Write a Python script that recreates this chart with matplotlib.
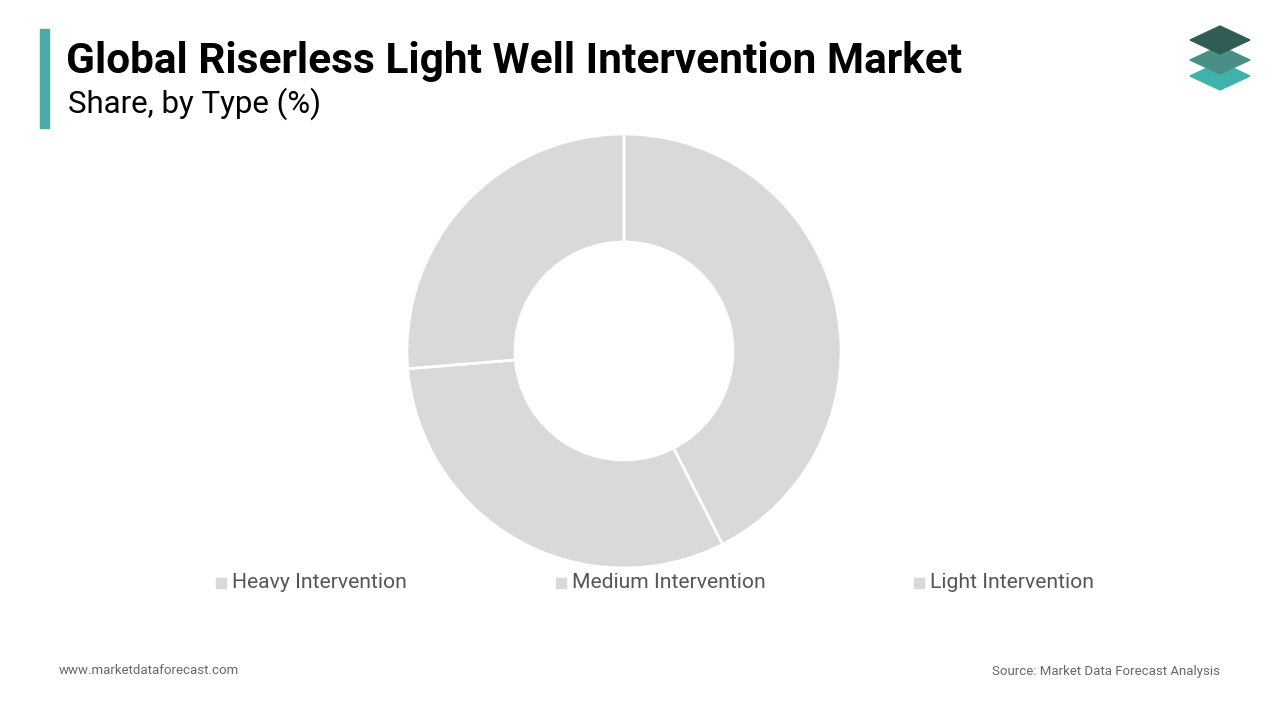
import matplotlib
matplotlib.use("Agg")
import matplotlib.pyplot as plt
from matplotlib.patches import Rectangle, Polygon

categories = ["Heavy Intervention", "Medium Intervention", "Light Intervention"]
values = [42.5, 31.2, 26.3]
colors = ["#d9d9d9", "#d9d9d9", "#d9d9d9"]

fig = plt.figure(figsize=(12.8, 7.2), dpi=100)
fig.patch.set_facecolor("white")

fig.patches.append(Rectangle((40/1280, 1-128/720), 9/1280, 99/720, transform=fig.transFigure, color="#4aaba6"))
fig.text(66/1280, 1-62/720, "Global Riserless Light Well Intervention Market", fontsize=30.5, fontweight="bold",
         family="Roboto", va="center", ha="left")
fig.text(68/1280, 1-104/720, "Share, by Type (%)", fontsize=22.5, family="Roboto", va="center", ha="left")

def dia(cy, c):
    pts = [(1190, cy), (1220, cy-14), (1250, cy), (1220, cy+14)]
    fig.patches.append(Polygon([(x/1280, 1-y/720) for x, y in pts], closed=True, transform=fig.transFigure, color=c))
dia(76, "#3fb3ab")
dia(60, "#4a8f86")
dia(40, "#2f5d55")

ax = fig.add_axes([(624-217)/1280, 1-(351+217)/720, 434/1280, 434/720])
ax.pie(values, colors=colors, startangle=90, counterclock=False,
       wedgeprops=dict(width=108/217, edgecolor="white", linewidth=2))
ax.set_xlim(-1, 1)
ax.set_ylim(-1, 1)
ax.set_aspect("equal")

legx = [216, 556, 914]
for x, name, c in zip(legx, categories, colors):
    fig.patches.append(Rectangle((x/1280, 1-588/720), 10/1280, 10/720, transform=fig.transFigure, color=c))
    fig.text((x+16)/1280, 1-583/720, name, fontsize=15.2, family="Roboto", color="#555555", va="center", ha="left")

fig.text(59/1280, 1-671/720, "www.marketdataforecast.com", fontsize=9.5, family="Roboto", color="#666666", va="center")
fig.text(1220/1280, 1-671/720, "Source: Market Data Forecast Analysis", fontsize=9.5, family="Roboto", color="#666666",
         va="center", ha="right")

fig.savefig("out.png", dpi=100)
